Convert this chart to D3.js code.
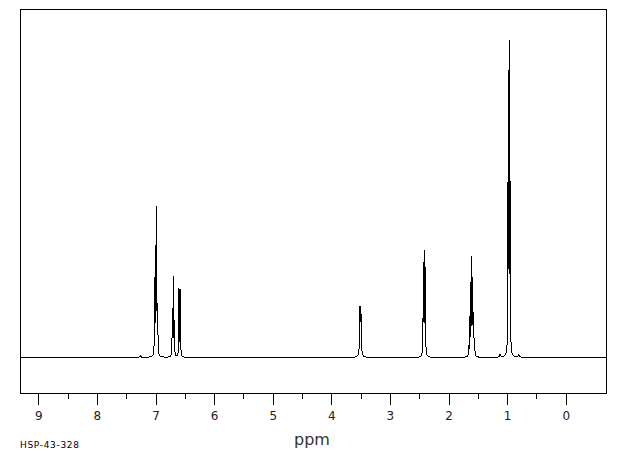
<!DOCTYPE html>
<html>
<head>
<meta charset="utf-8">
<script src="https://cdn.jsdelivr.net/npm/d3@7"></script>
<style>
	body { margin: 0; background: #fff; }
	svg { display: block; }
</style>
</head>
<body>
<div id="chart"></div>
<script>
// peak list (ppm, height in px above baseline, half width in ppm)
const peakPpm    = [7.26, 7.014, 6.997, 6.980, 6.962, 6.713, 6.696, 6.679, 6.599, 6.577,
                    3.510, 3.494, 2.430, 2.413, 2.396, 1.655, 1.638, 1.621, 1.604, 1.587, 1.570, 1.553,
                    1.12, 0.983, 0.966, 0.949, 0.80];
const peakHeight = [2, 80, 112, 151, 50, 49, 81, 37, 69, 68,
                    51, 45, 95, 107, 90, 12, 40, 75, 101, 80, 45, 15,
                    3, 196, 317, 176, 3];
const peakWidth  = [0.01, 0.004, 0.004, 0.004, 0.004, 0.004, 0.004, 0.004, 0.004, 0.004,
                    0.007, 0.007, 0.004, 0.004, 0.004, 0.004, 0.004, 0.004, 0.004, 0.004, 0.004, 0.004,
                    0.01, 0.004, 0.004, 0.004, 0.01];

const majorTicks = [9, 8, 7, 6, 5, 4, 3, 2, 1, 0];
const minorTicks = [8.5, 7.5, 6.5, 5.5, 4.5, 3.5, 2.5, 1.5, 0.5];
const axisTitle = 'ppm';
const sampleId = 'HSP-43-328';

const width = 620, height = 455;
const frame = { left: 20.5, top: 9.5, right: 606.5, bottom: 393.5 };
const baseY = 357.5;

const x = d3.scaleLinear()
	.domain([0, 9])
	.range([565.7, 38.3]);
const y = d3.scaleLinear()
	.domain([0, 317])
	.range([baseY, 40.5]);

const lorentz = (p, a, ppm) => {
	const w = peakWidth[p], d = ppm - peakPpm[p];
	return a * w * w / (d * d + w * w);
};

// adjust amplitudes so the summed curve hits the read heights at each line
let amp = peakHeight.slice();
for (let it = 0; it < 30; it++) {
	amp = amp.map((a, i) => {
		let others = 0;
		peakPpm.forEach((v, j) => { if (j !== i) others += lorentz(j, amp[j], peakPpm[i]); });
		return Math.max(0, peakHeight[i] - others);
	});
}

const intensity = (ppm) => {
	let s = 0;
	for (let j = 0; j < peakPpm.length; j++) s += lorentz(j, amp[j], ppm);
	return s;
};

const lo = x.invert(frame.right), hi = x.invert(frame.left);
const samples = d3.range(lo, hi, 0.001).concat(peakPpm).sort((a, b) => a - b);
const spectrum = samples.map(v => [v, intensity(v)]);

const svg = d3.select('#chart').append('svg')
	.attr('width', width)
	.attr('height', height);

svg.append('rect')
	.attr('x', frame.left)
	.attr('y', frame.top)
	.attr('width', frame.right - frame.left)
	.attr('height', frame.bottom - frame.top)
	.attr('fill', 'none')
	.attr('stroke', '#000')
	.attr('stroke-width', 1)
	.attr('shape-rendering', 'crispEdges');

const line = d3.line()
	.x(d => x(d[0]))
	.y(d => y(d[1]));

svg.append('path')
	.datum(spectrum)
	.attr('d', line)
	.attr('fill', 'none')
	.attr('stroke', '#000')
	.attr('stroke-width', 1)
	.attr('shape-rendering', 'crispEdges');

// axis below the frame
const axisG = svg.append('g')
	.attr('transform', `translate(0,${frame.bottom})`)
	.attr('shape-rendering', 'crispEdges');

axisG.selectAll('.major')
	.data(majorTicks)
	.enter().append('line')
	.attr('class', 'major')
	.attr('x1', d => Math.round(x(d)) + 0.5)
	.attr('x2', d => Math.round(x(d)) + 0.5)
	.attr('y1', 0)
	.attr('y2', 11)
	.attr('stroke', '#000');

axisG.selectAll('.minor')
	.data(minorTicks)
	.enter().append('line')
	.attr('class', 'minor')
	.attr('x1', d => Math.round(x(d)) + 0.5)
	.attr('x2', d => Math.round(x(d)) + 0.5)
	.attr('y1', 0)
	.attr('y2', 5)
	.attr('stroke', '#000');

axisG.selectAll('.label')
	.data(majorTicks)
	.enter().append('text')
	.attr('class', 'label')
	.attr('x', d => x(d) + 0.5)
	.attr('y', 26)
	.attr('text-anchor', 'middle')
	.attr('font-family', 'DejaVu Sans, sans-serif')
	.attr('font-size', 12)
	.attr('fill', '#222')
	.text(d => d);

svg.append('text')
	.attr('x', 312)
	.attr('y', 445)
	.attr('text-anchor', 'middle')
	.attr('font-family', 'DejaVu Sans, sans-serif')
	.attr('font-size', 16)
	.attr('fill', '#333')
	.text(axisTitle);

svg.append('text')
	.attr('x', 20)
	.attr('y', 447.5)
	.attr('font-family', 'DejaVu Sans, sans-serif')
	.attr('font-size', 9)
	.attr('textLength', 59)
	.attr('fill', '#000')
	.text(sampleId);
</script>
</body>
</html>
